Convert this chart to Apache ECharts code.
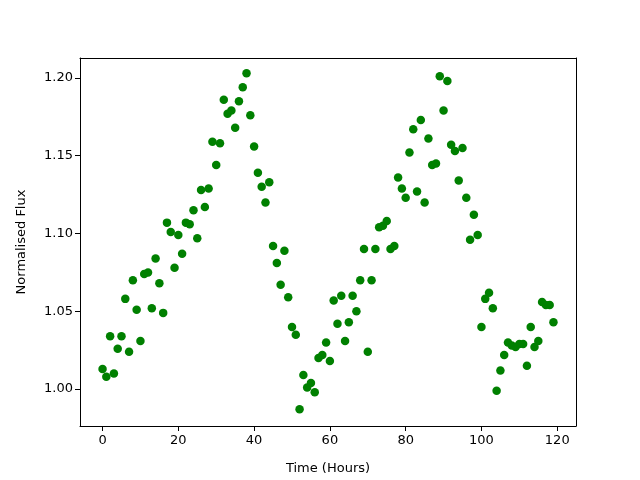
<!DOCTYPE html>
<html>
<head>
<meta charset="utf-8">
<script src="https://cdn.jsdelivr.net/npm/echarts@6/dist/echarts.min.js"></script>
<style>
    html, body { margin: 0; padding: 0; background: #fff; }
    #main { width: 640px; height: 480px; }
</style>
</head>
<body>
<div id="main"></div>
<script>
// hours 0..119, one reading per hour
var hours = [];
for (var h = 0; h < 120; h++) hours.push(h);

var flux = [
    1.013, 1.008, 1.034, 1.010, 1.026, 1.034, 1.058, 1.024, 1.070, 1.051,
    1.031, 1.074, 1.075, 1.052, 1.084, 1.068, 1.049, 1.107, 1.101, 1.078,
    1.099, 1.087, 1.107, 1.106, 1.115, 1.097, 1.128, 1.117, 1.129, 1.159,
    1.144, 1.158, 1.186, 1.177, 1.179, 1.168, 1.185, 1.194, 1.203, 1.176,
    1.156, 1.139, 1.130, 1.120, 1.133, 1.092, 1.081, 1.067, 1.089, 1.059,
    1.040, 1.035, 0.987, 1.009, 1.001, 1.004, 0.998, 1.020, 1.022, 1.030,
    1.018, 1.057, 1.042, 1.060, 1.031, 1.043, 1.060, 1.050, 1.070, 1.090,
    1.024, 1.070, 1.090, 1.104, 1.105, 1.108, 1.090, 1.092, 1.136, 1.129,
    1.123, 1.152, 1.167, 1.127, 1.173, 1.120, 1.161, 1.144, 1.145, 1.201,
    1.179, 1.198, 1.157, 1.153, 1.134, 1.155, 1.123, 1.096, 1.112, 1.099,
    1.040, 1.058, 1.062, 1.052, 0.999, 1.012, 1.022, 1.030, 1.028, 1.027,
    1.029, 1.029, 1.015, 1.040, 1.027, 1.031, 1.056, 1.054, 1.054, 1.043
];

var xTicks = [0, 20, 40, 60, 80, 100, 120];
var yTicks = [1.00, 1.05, 1.10, 1.15, 1.20];

var xMin = -5.95, xMax = 124.95;
var yMin = 0.9763, yMax = 1.2128;

var myChart = echarts.init(document.getElementById('main'));

var points = [];
hours.forEach(function(x, i) {
    points.push([x, flux[i]]);
});

var font = 'DejaVu Sans';
var blackLine = { show: true, onZero: false, lineStyle: { color: '#000', width: 1 } };

// plain frame axes for the top and right spines
function frameAxis(pos, min, max) {
    return {
        type: 'value',
        position: pos,
        min: min,
        max: max,
        axisLine: blackLine,
        axisTick: { show: false },
        axisLabel: { show: false },
        splitLine: { show: false }
    };
}

option = {
    animation: false,
    backgroundColor: '#fff',
    grid: {
        left: 80,
        right: 64,
        top: 58,
        bottom: 53
    },
    xAxis: [{
        type: 'value',
        min: xMin,
        max: xMax,
        name: 'Time (Hours)',
        nameLocation: 'middle',
        nameGap: 36,
        nameTextStyle: { color: '#000', fontSize: 13, fontFamily: font },
        splitLine: { show: false },
        axisLine: blackLine,
        axisTick: {
            show: true,
            length: 5,
            customValues: xTicks,
            lineStyle: { color: '#000' }
        },
        axisLabel: {
            customValues: xTicks,
            margin: 8,
            color: '#000',
            fontSize: 13,
            fontFamily: font
        }
    }, frameAxis('top', xMin, xMax)],
    yAxis: [{
        type: 'value',
        min: yMin,
        max: yMax,
        name: 'Normalised Flux',
        nameLocation: 'middle',
        nameGap: 52,
        nameTextStyle: { color: '#000', fontSize: 13, fontFamily: font },
        splitLine: { show: false },
        axisLine: blackLine,
        axisTick: {
            show: true,
            length: 5,
            customValues: yTicks,
            lineStyle: { color: '#000' }
        },
        axisLabel: {
            customValues: yTicks,
            margin: 7,
            color: '#000',
            fontSize: 13,
            fontFamily: font,
            formatter: function(v) { return v.toFixed(2); }
        }
    }, frameAxis('right', yMin, yMax)],
    series: [{
        type: 'scatter',
        symbol: 'circle',
        symbolSize: 8.5,
        itemStyle: { color: '#008000', opacity: 1 },
        data: points
    }]
};

myChart.setOption(option);
</script>
</body>
</html>
